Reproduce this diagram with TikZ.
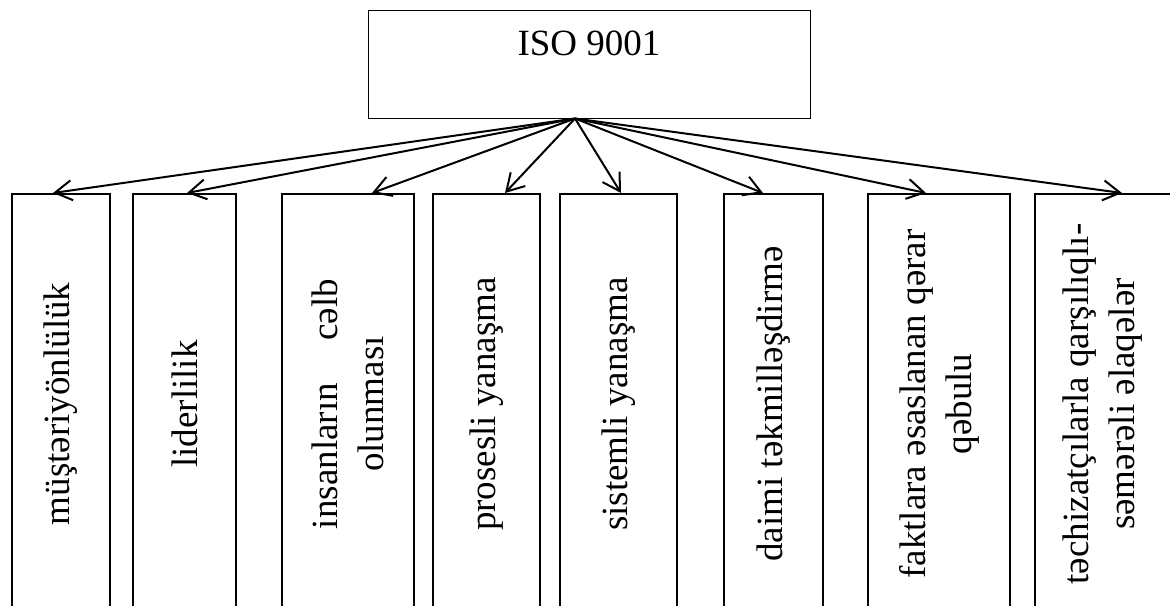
\documentclass[tikz,border=0pt]{standalone}
\usepackage{fontspec}
\setmainfont{Liberation Serif}
\usetikzlibrary{arrows.meta}

\begin{document}
\begin{tikzpicture}[x=0.5pt,y=-0.5pt]
		\tikzstyle{every node} = [font = \fontsize{18.5}{23}\selectfont]
		\tikzstyle{leaf} = [draw, line width=1pt, rotate=90, align=center,
			minimum width=210pt, inner sep=0pt]
		\tikzstyle{link} = [draw, line width=1pt,
			-{Straight Barb[length=8.5pt,width=10pt]}]
		\useasboundingbox (0,0) rectangle (1170,605);
		\clip (0,0) rectangle (1170,605);
				\node[draw, line width=0.5pt, anchor=base, inner sep=0pt,
					minimum width=221pt, text height=22.5pt, text depth=31.5pt]
					(iso) at (589,55) {ISO 9001};
				\coordinate (hub) at ([xshift=-7pt]iso.south);
				\node[leaf, minimum height=49pt] (b1) at (61,404) {müştəriyönlülük};
				\node[leaf, minimum height=51.5pt] (b2) at (184.5,404) {liderlilik};
				\node[leaf, minimum height=66pt] (b3) at (348,404)
					{\makebox[125pt][s]{insanların cəlb}\\olunması};
				\node[leaf, minimum height=53.5pt] (b4) at (486.5,404) {prosesli yanaşma};
				\node[leaf, minimum height=58.5pt] (b5) at (618.5,404) {sistemli yanaşma};
				\node[leaf, minimum height=49.5pt] (b6) at (773.5,404) {daimi təkmilləşdirmə};
				\node[leaf, minimum height=71pt] (b7) at (939,404)
					{faktlara əsaslanan qərar\\qəbulu};
				\node[leaf, minimum height=68pt] (b8) at (1103,404)
					{təchizatçılarla qarşılıqlı-\\səmərəli əlaqələr};
				\path[link] (hub)-- ([xshift=-4pt]b1.east);
				\path[link] (hub)-- ([xshift=1.25pt]b2.east);
				\path[link] (hub)-- ([xshift=12pt]b3.east);
				\path[link] (hub)-- ([xshift=9.25pt]b4.east);
				\path[link] (hub)-- ([xshift=1.25pt]b5.east);
				\path[link] (hub)-- ([xshift=-5.25pt]b6.east);
				\path[link] (hub)-- ([xshift=-6.5pt]b7.east);
				\path[link] (hub)-- ([xshift=9.5pt]b8.east);
	\end{tikzpicture}
\end{document}
